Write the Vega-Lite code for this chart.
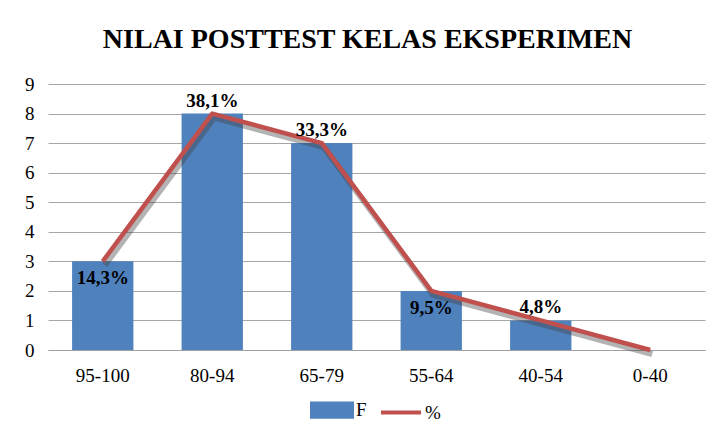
{
  "$schema": "https://vega.github.io/schema/vega-lite/v6.json",
  "width": 657,
  "height": 266,
  "autosize": {"type": "none"},
  "padding": {"left": 48, "top": 84, "right": 9, "bottom": 87},
  "background": "white",
  "title": {
    "text": "NILAI POSTTEST KELAS EKSPERIMEN",
    "font": "Liberation Serif",
    "fontSize": 28,
    "fontWeight": "bold",
    "color": "black",
    "anchor": "middle",
    "offset": 21,
    "dx": -9
  },
  "data": {
    "values": [
      {"kelas": "95-100", "F": 3, "persen": "14,3%", "pos": "below"},
      {"kelas": "80-94", "F": 8, "persen": "38,1%", "pos": "above"},
      {"kelas": "65-79", "F": 7, "persen": "33,3%", "pos": "above"},
      {"kelas": "55-64", "F": 2, "persen": "9,5%", "pos": "below"},
      {"kelas": "40-54", "F": 1, "persen": "4,8%", "pos": "above"},
      {"kelas": "0-40", "F": 0, "persen": "", "pos": "none"}
    ]
  },
  "encoding": {
    "x": {
      "field": "kelas",
      "type": "nominal",
      "sort": null,
      "scale": {"paddingInner": 0.44, "paddingOuter": 0.22},
      "axis": {
        "title": null,
        "labelAngle": 0,
        "labelFont": "Liberation Serif",
        "labelFontSize": 19,
        "labelColor": "black",
        "labelPadding": 16,
        "ticks": false,
        "domainColor": "#A0A0A0",
        "domainWidth": 1.2,
        "grid": false
      }
    },
    "y": {
      "field": "F",
      "type": "quantitative",
      "scale": {"domain": [0, 9], "nice": false},
      "axis": {
        "title": null,
        "values": [0, 1, 2, 3, 4, 5, 6, 7, 8, 9],
        "labelFont": "Liberation Serif",
        "labelFontSize": 19,
        "labelColor": "black",
        "labelPadding": 14,
        "ticks": false,
        "domain": false,
        "grid": true,
        "gridColor": "#A6A6A6",
        "gridWidth": 1.2
      }
    }
  },
  "layer": [
    {
      "mark": {"type": "bar", "color": "#4F81BD"},
      "encoding": {
        "color": {
          "datum": "F",
          "legend": {
            "orient": "none",
            "direction": "horizontal",
            "legendX": 262,
            "legendY": 304,
            "title": null,
            "labelFont": "Liberation Serif",
            "labelFontSize": 19,
            "labelColor": "black",
            "columnPadding": 6,
            "labelOffset": 2,
            "symbolSize": 1600,
            "encode": {
              "symbols": {
                "update": {
                  "shape": {"signal": "datum.value === 'F' ? 'M-1,-0.33H1V0.33H-1Z' : 'M-1,0H1'"},
                  "fill": {"signal": "datum.value === 'F' ? '#4F81BD' : 'transparent'"},
                  "stroke": {"signal": "datum.value === 'F' ? 'transparent' : '#C0504D'"},
                  "strokeWidth": {"value": 4},
                  "opacity": {"value": 1}
                }
              }
            }
          }
        }
      }
    },
    {
      "mark": {"type": "line", "color": "#404040", "opacity": 0.4, "strokeWidth": 6, "xOffset": 2, "yOffset": 4, "strokeJoin": "round"},
      "encoding": {}
    },
    {
      "mark": {"type": "line", "strokeWidth": 4.5, "strokeJoin": "round"},
      "encoding": {
        "color": {"datum": "%"}
      }
    },
    {
      "transform": [{"filter": "datum.pos === 'above'"}],
      "mark": {"type": "text", "font": "Liberation Serif", "fontSize": 19, "fontWeight": "bold", "color": "black", "dy": -13, "baseline": "middle"},
      "encoding": {
        "text": {"field": "persen"}
      }
    },
    {
      "transform": [{"filter": "datum.pos === 'below'"}],
      "mark": {"type": "text", "font": "Liberation Serif", "fontSize": 19, "fontWeight": "bold", "color": "black", "dy": 17, "baseline": "middle"},
      "encoding": {
        "text": {"field": "persen"}
      }
    }
  ],
  "resolve": {"scale": {"color": "shared"}},
  "config": {
    "view": {"stroke": null},
    "range": {"category": ["#4F81BD", "#C0504D"]}
  }
}
